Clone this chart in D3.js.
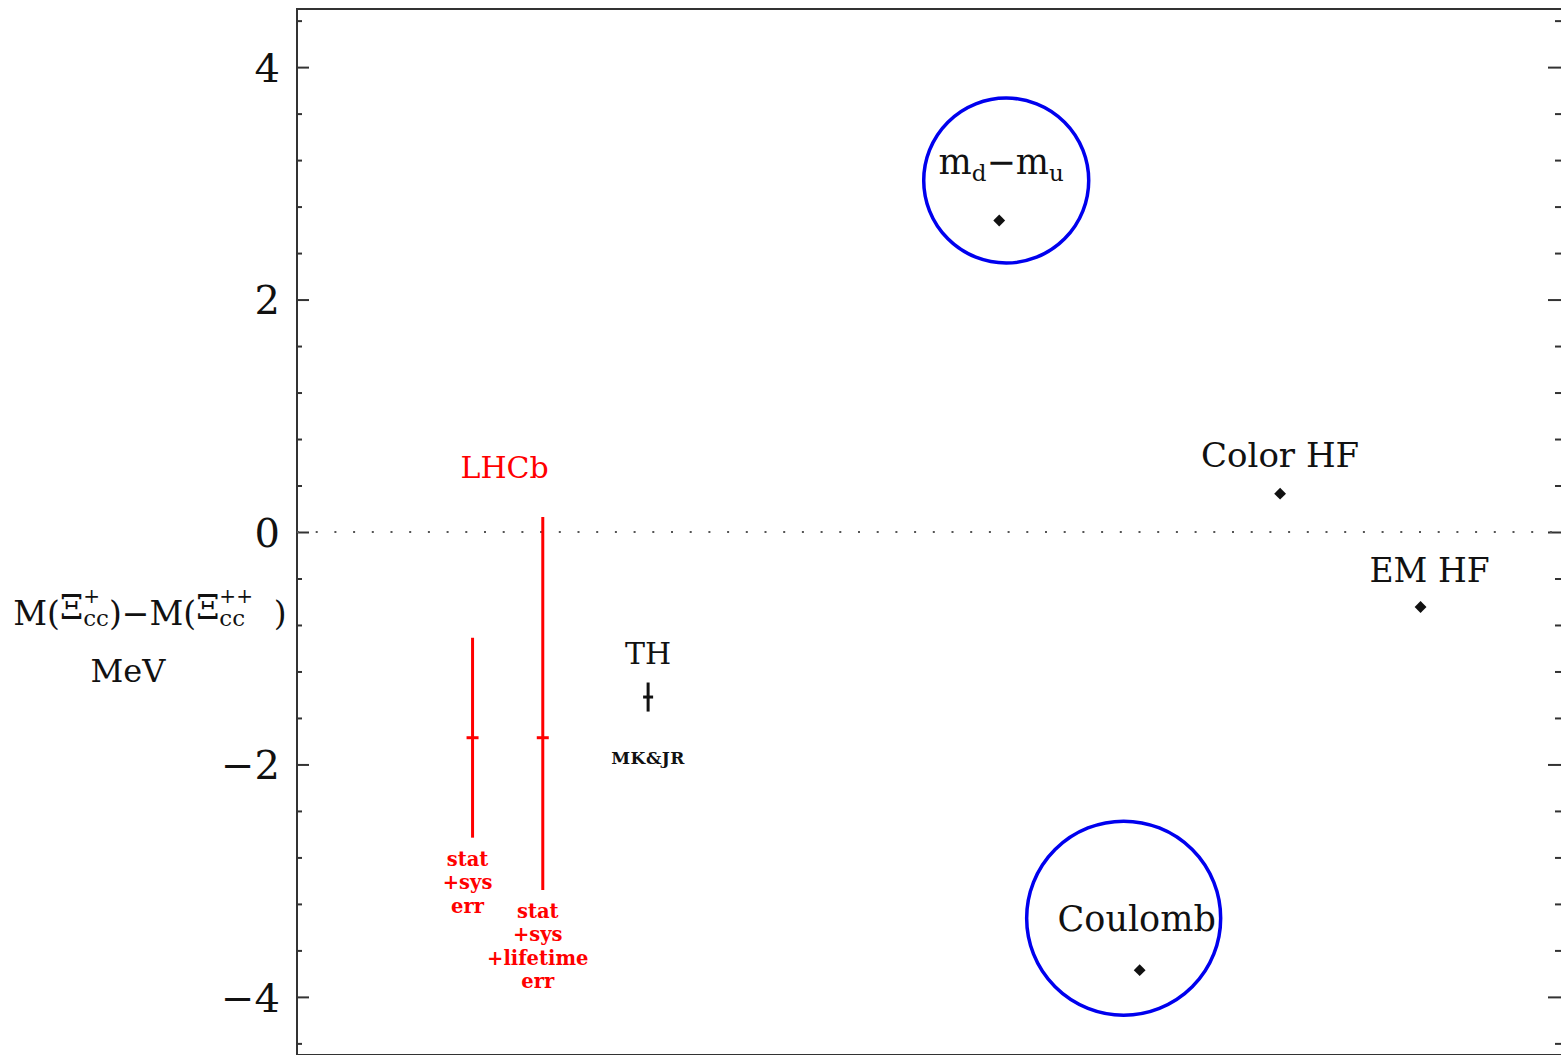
<!DOCTYPE html>
<html>
<head>
<meta charset="utf-8">
<script src="https://cdn.jsdelivr.net/npm/d3@7"></script>
<style>
  body { margin: 0; background: #fff; }
  svg { display: block; }
  text { font-family: "DejaVu Serif", "Liberation Serif", serif; white-space: pre; }
</style>
</head>
<body>
<svg id="chart" width="1561" height="1055"></svg>
<script>
// ---- data -------------------------------------------------------------
const yMajorTicks = [-4, -2, 0, 2, 4];

// LHCb measurement of the mass splitting, shown with two error treatments
const lhcbSlots    = [1.25, 1.75];
const lhcbValues   = [-1.77, -1.77];
const lhcbErrDown  = [0.86, 1.31];
const lhcbErrUp    = [0.86, 1.90];
const lhcbNotes    = [["stat", "+sys", "err"], ["stat", "+sys", "+lifetime", "err"]];

// theory prediction (MK & JR)
const thSlot  = 2.5;
const thValue = -1.42;
const thErr   = 0.125;

// individual contributions to the splitting
const partNames  = ["md-mu", "Coulomb", "Color HF", "EM HF"];
const partSlots  = [5, 6, 7, 8];
const partValues = [2.68, -3.77, 0.33, -0.645];
const circledParts = ["md-mu", "Coulomb"];

// ---- layout -----------------------------------------------------------
const plotL = 297, plotT = 9, plotR = 1561, plotB = 1055;
const RED = "#ff0000", BLUE = "#0000ee", INK = "#111";

const svg = d3.select("#chart");
const x = d3.scaleLinear().domain([0, 9]).range([plotL, plotR]);
const y = d3.scaleLinear().domain([-4.5, 4.5]).range([plotB, plotT]);

const minorTicks = d3.range(-11, 12).filter(i => i % 5 !== 0).map(i => i * 0.4);

// frame (top, left, bottom edges)
svg.append("path")
  .attr("d", `M${plotR + 2},${plotT}H${plotL}V${plotB}H${plotR + 2}`)
  .attr("fill", "none").attr("stroke", "#333").attr("stroke-width", 2);

// left axis: inward ticks, labels outside
const gL = svg.append("g").attr("transform", `translate(${plotL},0)`)
  .call(d3.axisLeft(y).tickValues(yMajorTicks).tickSizeInner(-12).tickSizeOuter(0).tickPadding(17));
gL.select(".domain").remove();
gL.selectAll(".tick line").attr("stroke", "#333").attr("stroke-width", 2);
gL.selectAll(".tick text").attr("font-family", "DejaVu Serif").attr("font-size", 40).attr("fill", INK).attr("dy", "0.36em");

const gLm = svg.append("g").attr("transform", `translate(${plotL},0)`)
  .call(d3.axisLeft(y).tickValues(minorTicks).tickSizeInner(-5).tickSizeOuter(0).tickFormat(""));
gLm.select(".domain").remove();
gLm.selectAll(".tick line").attr("stroke", "#333").attr("stroke-width", 2);

// right axis: ticks only
const gR = svg.append("g").attr("transform", `translate(${plotR},0)`)
  .call(d3.axisRight(y).tickValues(yMajorTicks).tickSizeInner(-13).tickSizeOuter(0).tickFormat(""));
gR.select(".domain").remove();
gR.selectAll(".tick line").attr("stroke", "#333").attr("stroke-width", 2);
const gRm = svg.append("g").attr("transform", `translate(${plotR},0)`)
  .call(d3.axisRight(y).tickValues(minorTicks).tickSizeInner(-6).tickSizeOuter(0).tickFormat(""));
gRm.select(".domain").remove();
gRm.selectAll(".tick line").attr("stroke", "#333").attr("stroke-width", 2);

// dotted zero line
svg.append("line")
  .attr("x1", plotL).attr("x2", plotR).attr("y1", y(0)).attr("y2", y(0))
  .attr("stroke", "#555").attr("stroke-width", 2).attr("stroke-dasharray", "2,16.7");

// ---- helper for text with stacked super/subscripts --------------------
function richText(parent, pieces, cx, baseline, color) {
  const g = parent.append("g");
  let cur = 0;
  pieces.forEach(p => {
    const parts = p.stack || [p];
    let w = 0;
    parts.forEach(s => {
      const t = g.append("text")
        .attr("x", cur).attr("y", s.dy || 0)
        .attr("font-size", s.size).attr("fill", color)
        .attr("font-weight", s.weight || "normal")
        .text(s.text);
      w = Math.max(w, t.node().getComputedTextLength());
    });
    cur += w + (p.gap || 0);
  });
  g.attr("transform", `translate(${cx - cur / 2},${baseline})`);
  return g;
}

// ---- y axis title -----------------------------------------------------
richText(svg, [
  { text: "M(", size: 33 },
  { text: "Ξ", size: 33, dy: -6 },
  { stack: [{ text: "+", size: 20, dy: -22 }, { text: "cc", size: 23, dy: 1 }] },
  { text: ")−M(", size: 33 },
  { text: "Ξ", size: 33, dy: -6 },
  { stack: [{ text: "++", size: 20, dy: -22 }, { text: "cc", size: 23, dy: 1 }] },
  { text: "  )", size: 33 }
], 150, 625, INK);
svg.append("text").attr("x", 128).attr("y", 682).attr("text-anchor", "middle")
  .attr("font-size", 32).attr("fill", INK).text("MeV");

// ---- LHCb error bars --------------------------------------------------
const lhcb = lhcbSlots.map((s, i) => ({
  s, v: lhcbValues[i], lo: lhcbValues[i] - lhcbErrDown[i], hi: lhcbValues[i] + lhcbErrUp[i], notes: lhcbNotes[i]
}));
const gLh = svg.append("g");
gLh.selectAll("line.bar").data(lhcb).join("line").attr("class", "bar")
  .attr("x1", d => x(d.s)).attr("x2", d => x(d.s))
  .attr("y1", d => y(d.hi)).attr("y2", d => y(d.lo))
  .attr("stroke", RED).attr("stroke-width", 3);
gLh.selectAll("line.mid").data(lhcb).join("line").attr("class", "mid")
  .attr("x1", d => x(d.s) - 6).attr("x2", d => x(d.s) + 6)
  .attr("y1", d => y(d.v)).attr("y2", d => y(d.v))
  .attr("stroke", RED).attr("stroke-width", 3);
lhcb.forEach(d => {
  d.notes.forEach((line, j) => {
    gLh.append("text")
      .attr("x", x(d.s) - 5).attr("y", y(d.lo) + 28 + j * 23.5)
      .attr("text-anchor", "middle").attr("font-size", 19.5).attr("font-weight", "bold")
      .attr("fill", RED).text(line);
  });
});
svg.append("text")
  .attr("x", x(d3.mean(lhcbSlots)) - 3).attr("y", y(d3.max(lhcb, d => d.hi)) - 39)
  .attr("text-anchor", "middle").attr("font-size", 30).attr("fill", RED).text("LHCb");

// ---- theory point -----------------------------------------------------
const gTh = svg.append("g");
gTh.append("line")
  .attr("x1", x(thSlot)).attr("x2", x(thSlot))
  .attr("y1", y(thValue + thErr)).attr("y2", y(thValue - thErr))
  .attr("stroke", INK).attr("stroke-width", 3);
gTh.append("line")
  .attr("x1", x(thSlot) - 5).attr("x2", x(thSlot) + 5)
  .attr("y1", y(thValue)).attr("y2", y(thValue))
  .attr("stroke", INK).attr("stroke-width", 3);
gTh.append("text").attr("x", x(thSlot)).attr("y", y(thValue + thErr) - 19)
  .attr("text-anchor", "middle").attr("font-size", 30).attr("fill", INK).text("TH");
gTh.append("text").attr("x", x(thSlot)).attr("y", y(thValue - thErr) + 52)
  .attr("text-anchor", "middle").attr("font-size", 17).attr("font-weight", "bold")
  .attr("letter-spacing", 0.5).attr("fill", INK).text("MK&JR");

// ---- contributions ----------------------------------------------------
const parts = partNames.map((n, i) => ({ name: n, s: partSlots[i], v: partValues[i] }));
const diamond = d3.symbol(d3.symbolSquare, 70)();
svg.append("g").selectAll("path").data(parts).join("path")
  .attr("d", diamond)
  .attr("transform", d => `translate(${x(d.s)},${y(d.v)}) rotate(45)`)
  .attr("fill", INK);

// labels, placed relative to each point
const byName = Object.fromEntries(parts.map(d => [d.name, d]));
function px(n) { return x(byName[n].s); }
function py(n) { return y(byName[n].v); }

richText(svg, [
  { text: "m", size: 35 },
  { text: "d", size: 23, dy: 7 },
  { text: "−m", size: 35 },
  { text: "u", size: 23, dy: 7 }
], px("md-mu") + 2, py("md-mu") - 47, INK);

svg.append("text").attr("x", px("Coulomb") - 3).attr("y", py("Coulomb") - 39)
  .attr("text-anchor", "middle").attr("font-size", 35).attr("fill", INK).text("Coulomb");
svg.append("text").attr("x", px("Color HF")).attr("y", py("Color HF") - 27)
  .attr("text-anchor", "middle").attr("font-size", 34).attr("fill", INK).text("Color HF");
svg.append("text").attr("x", px("EM HF") + 9).attr("y", py("EM HF") - 25)
  .attr("text-anchor", "middle").attr("font-size", 33).attr("fill", INK).text("EM HF");

// circles around the two dominant contributions
const circleSpec = { "md-mu": { dx: 7, dy: -40, r: 82.5 }, "Coulomb": { dx: -16, dy: -52, r: 97 } };
svg.append("g").selectAll("circle").data(circledParts).join("circle")
  .attr("cx", n => px(n) + circleSpec[n].dx)
  .attr("cy", n => py(n) + circleSpec[n].dy)
  .attr("r", n => circleSpec[n].r)
  .attr("fill", "none").attr("stroke", BLUE).attr("stroke-width", 3.5);
</script>
</body>
</html>
